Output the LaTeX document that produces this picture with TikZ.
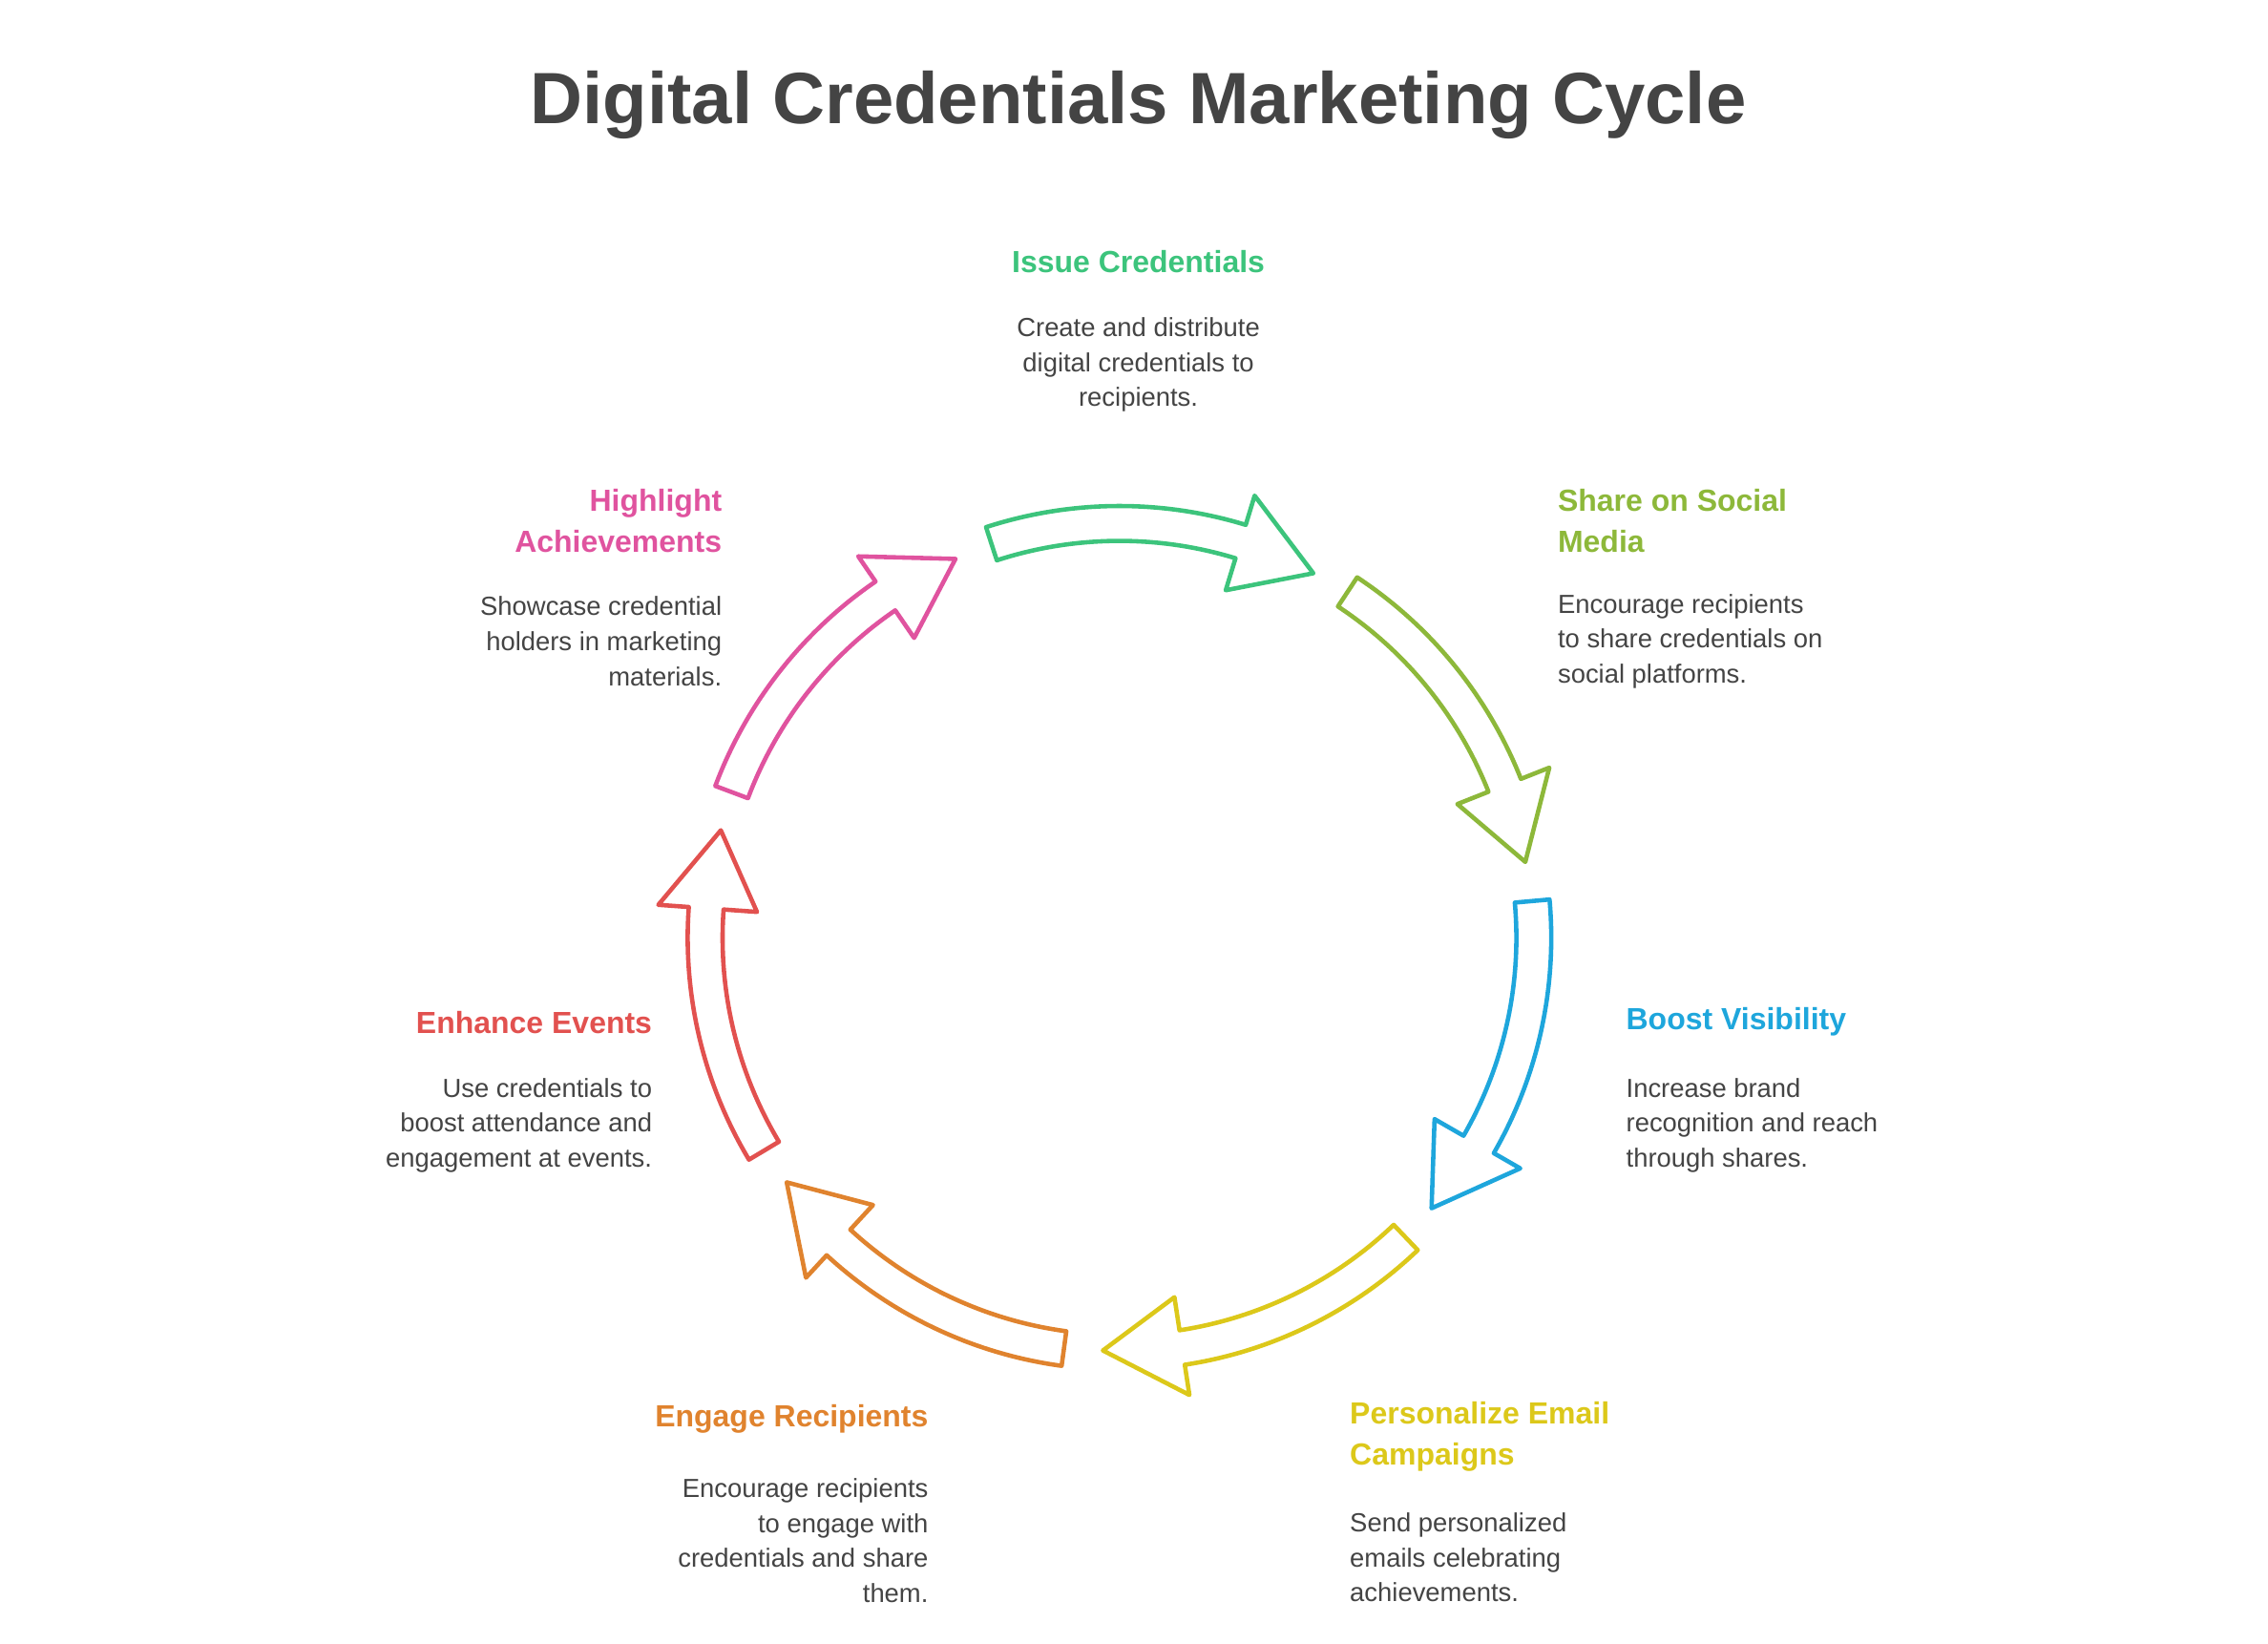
\documentclass[tikz,border=0pt]{standalone}
\usepackage{fontspec}
\setmainfont{Liberation Sans}
\definecolor{cgreen}{HTML}{3CC47C}
\definecolor{colive}{HTML}{8DB83A}
\definecolor{cblue}{HTML}{1EA6DC}
\definecolor{cyellow}{HTML}{DCC81A}
\definecolor{corange}{HTML}{E0832E}
\definecolor{cred}{HTML}{E2514F}
\definecolor{cpink}{HTML}{E0539F}
\definecolor{ctext}{HTML}{444444}
\tikzset{
  head/.style={font={\bfseries\fontsize{21}{28}\selectfont}},
  body/.style={font={\fontsize{18}{24}\selectfont},text=ctext},
  cyc/.style={draw=#1,line width=3pt,fill=white,line join=round},
}
\newcommand{\cycarrow}[3]{% start angle, end angle, color
  \pgfmathsetmacro{\hh}{#2+11}
  \draw[cyc=#3] (#1:297pt) arc[start angle=#1,end angle=\hh,radius=297pt]
    -- (\hh:318pt) -- (#2:284pt) -- (\hh:250pt) -- (\hh:273pt)
    arc[start angle=\hh,end angle=#1,radius=273pt] -- cycle;}
\begin{document}
\begin{tikzpicture}[x=1pt,y=1pt]
\useasboundingbox[fill=white] (0,0) rectangle (1560,1130);
\node[font={\bfseries\fontsize{50}{60}\selectfont},text=ctext] (title) at (783,1058) {Digital Credentials Marketing Cycle};
\begin{scope}[shift={(770,485)}]
\cycarrow{108}{62}{cgreen}
\cycarrow{56.6}{10.6}{colive}
\cycarrow{5.1}{-40.9}{cblue}
\cycarrow{-46.3}{-92.3}{cyellow}
\cycarrow{-97.7}{-143.7}{corange}
\cycarrow{-149.1}{-195.1}{cred}
\cycarrow{-200.6}{-246.6}{cpink}
\end{scope}
\node[head,text=cgreen] (h1) at (783,950) {Issue Credentials};
\node[body,align=center] (b1) at (783,879) {Create and distribute\\digital credentials to\\recipients.};
\node[head,text=colive,anchor=west,align=left] (h2) at (1068,772) {Share on Social\\Media};
\node[body,anchor=west,align=left] (b2) at (1068,689) {Encourage recipients\\to share credentials on\\social platforms.};
\node[head,text=cblue,anchor=west,align=left] (h3) at (1115,427) {Boost Visibility};
\node[body,anchor=west,align=left] (b3) at (1115,356) {Increase brand\\recognition and reach\\through shares.};
\node[head,text=cyellow,anchor=west,align=left] (h4) at (925,142) {Personalize Email\\Campaigns};
\node[body,anchor=west,align=left] (b4) at (925,59) {Send personalized\\emails celebrating\\achievements.};
\node[head,text=corange,anchor=east,align=right] (h5) at (642,154) {Engage Recipients};
\node[body,anchor=east,align=right] (b5) at (642,70.5) {Encourage recipients\\to engage with\\credentials and share\\them.};
\node[head,text=cred,anchor=east,align=right] (h6) at (452,427) {Enhance Events};
\node[body,anchor=east,align=right] (b6) at (452,356) {Use credentials to\\boost attendance and\\engagement at events.};
\node[head,text=cpink,anchor=east,align=right] (h7) at (500,772) {Highlight\\Achievements};
\node[body,anchor=east,align=right] (b7) at (500,689) {Showcase credential\\holders in marketing\\materials.};
\end{tikzpicture}
\end{document}
